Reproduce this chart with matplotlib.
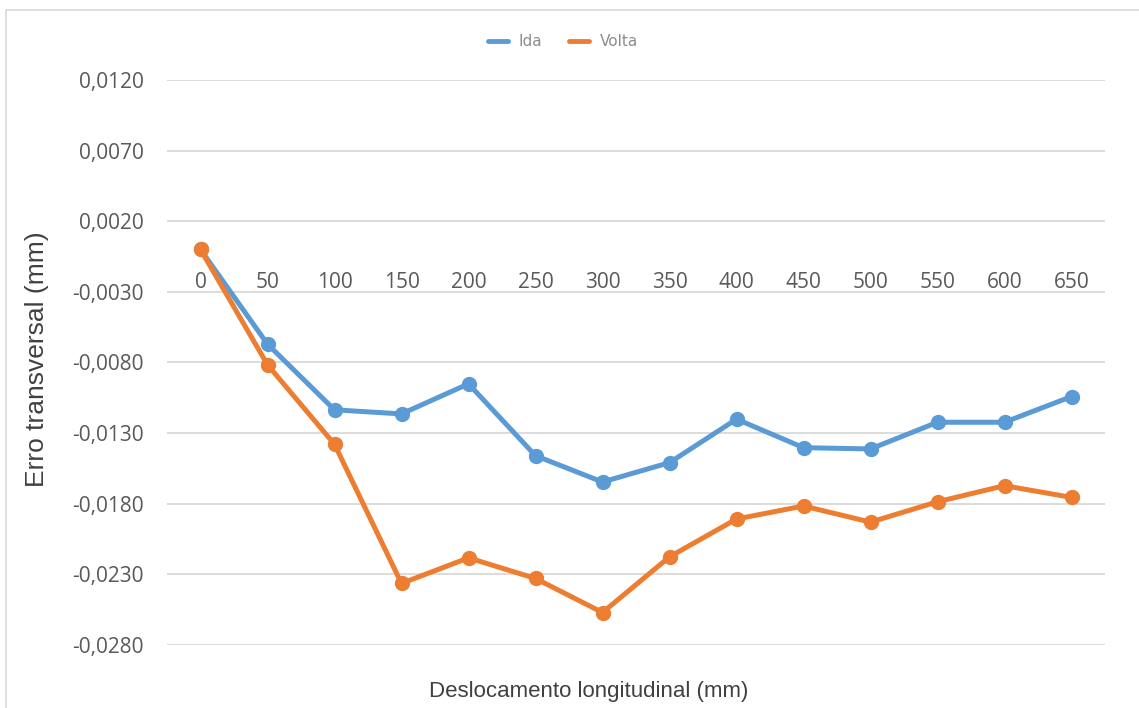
import matplotlib
matplotlib.use('Agg')
import matplotlib.pyplot as plt
from matplotlib.ticker import FuncFormatter
from matplotlib.patches import Rectangle

# Deslocamento longitudinal (mm) e erro transversal medido (mm)
deslocamento = ['0', '50', '100', '150', '200', '250', '300', '350',
                '400', '450', '500', '550', '600', '650']
ida = [0.0, -0.0067, -0.01135, -0.01164, -0.00951, -0.0146, -0.01646,
       -0.01509, -0.01201, -0.01403, -0.01412, -0.01223, -0.01223, -0.01041]
volta = [0.0, -0.00816, -0.01379, -0.02364, -0.02183, -0.02329, -0.0257,
         -0.02176, -0.01908, -0.01816, -0.0193, -0.01786, -0.01672, -0.01755]

W, H = 1139, 708
fig = plt.figure(figsize=(W / 100, H / 100), dpi=100)
fig.patch.set_facecolor('white')

# moldura do gráfico
fig.patches.append(Rectangle((6 / W, -0.1), 1.2, 1 - 10 / H + 0.1,
                             transform=fig.transFigure, fill=False,
                             edgecolor='#d9d9d9', linewidth=1.2))

ax = fig.add_axes([167 / W, 1 - 645 / H, (1105 - 167) / W, (645 - 80) / H])

x = range(len(deslocamento))
ax.plot(x, ida, color='#5B9BD5', linewidth=3.6, marker='o', markersize=10,
        label='Ida', solid_capstyle='round', zorder=3)
ax.plot(x, volta, color='#ED7D31', linewidth=3.6, marker='o', markersize=10,
        label='Volta', solid_capstyle='round', zorder=4)

ax.set_xlim(-0.5, len(deslocamento) - 0.5)
ax.set_ylim(-0.028, 0.012)
ax.set_yticks([0.012 - 0.005 * i for i in range(9)])
ax.yaxis.set_major_formatter(FuncFormatter(lambda v, p: f'{v:.4f}'.replace('.', ',')))
ax.grid(axis='y', color='#d9d9d9', linewidth=1.3)
ax.set_axisbelow(True)

# eixo horizontal cruza em zero
ax.spines['bottom'].set_position(('data', 0))
for s in ['top', 'right', 'left', 'bottom']:
    ax.spines[s].set_visible(False)
ax.set_xticks(list(x))
ax.set_xticklabels(deslocamento)
ax.tick_params(axis='x', length=0, pad=16, labelsize=15, labelcolor='#595959')
ax.tick_params(axis='y', length=0, pad=17, labelsize=15, labelcolor='#595959')
for lbl in ax.get_xticklabels() + ax.get_yticklabels():
    lbl.set_fontfamily('Open Sans')

fig.text(37 / W, 1 - 359 / H, 'Erro transversal (mm)', rotation=90,
         ha='center', va='center', fontsize=19, color='#404040',
         family='Liberation Sans')
fig.text(589 / W, 1 - 691 / H, 'Deslocamento longitudinal (mm)',
         ha='center', va='center', fontsize=16, color='#404040',
         family='Liberation Sans')

leg = fig.legend(loc='center', bbox_to_anchor=(563 / W, 1 - 42 / H), ncol=2,
                 frameon=False, fontsize=11, handlelength=1.3,
                 columnspacing=1.8, handletextpad=0.7)
for h in leg.legend_handles:
    h.set_marker('')
    h.set_linewidth(3.5)
for t in leg.get_texts():
    t.set_color('#8c8c8c')

fig.savefig('out.png', dpi=100)
